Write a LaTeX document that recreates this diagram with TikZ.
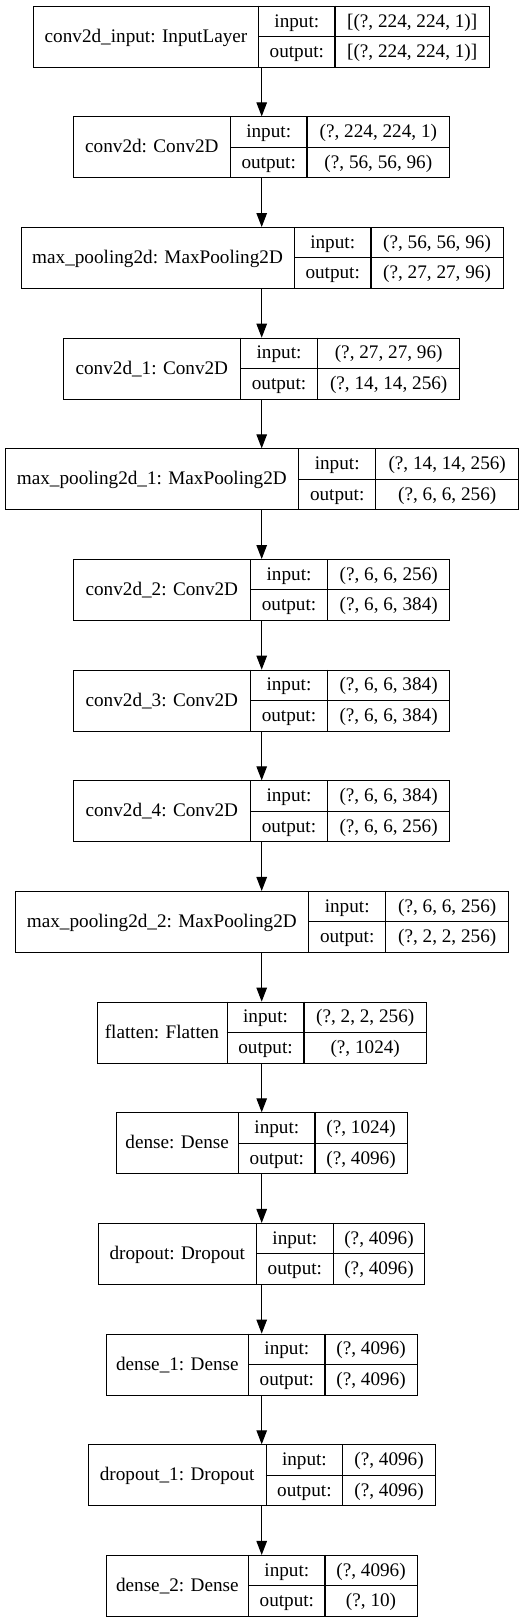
\documentclass[tikz,border=0pt]{standalone}
\usepackage{fontspec}
\setmainfont{Liberation Serif}
\usetikzlibrary{arrows.meta}
\tikzset{
  cell/.style={draw=none, rectangle, inner sep=0pt, anchor=north west,
    font=\fontsize{19.2}{23}\selectfont, text height=14.4pt, text depth=2.7pt},
  whole/.style={draw=black, line width=1.1pt, rectangle, inner sep=0pt, anchor=north west},
  grid/.style={draw=black, line width=1.1pt},
  arr/.style={line width=1.1pt, -{Triangle[length=14pt,width=10.5pt]}}
}
% #1 name, #2 top, #3 L, #4 D1, #5 D2, #6 R, #7 label, #8 input, #9 output
\newcommand\klayer[9]{%
  \node[whole, minimum width={(#6-#3)*1pt}, minimum height=61pt] (#1) at (#3,-#2) {};
  \node[cell, minimum width={(#4-#3)*1pt}, minimum height=61pt] (#1-l) at (#3,-#2) {#7};
  \node[cell, minimum width={(#5-#4)*1pt}, minimum height=30.5pt] (#1-ik) at (#4,-#2) {input:};
  \node[cell, minimum width={(#6-#5)*1pt}, minimum height=30.5pt] (#1-iv) at (#5,-#2) {#8};
  \node[cell, minimum width={(#5-#4)*1pt}, minimum height=30.5pt] (#1-ok) at (#4,-#2-30.5) {output:};
  \node[cell, minimum width={(#6-#5)*1pt}, minimum height=30.5pt] (#1-ov) at (#5,-#2-30.5) {#9};
  \draw[grid] (#1-l.north east) -- (#1-l.south east);
  \draw[grid] (#1-iv.north west) -- (#1-ov.south west);
  \draw[grid] (#1-ik.south west) -- (#1-iv.south east);
}
\begin{document}
\begin{tikzpicture}[x=1pt,y=1pt]
\useasboundingbox[fill=white] (0,0) rectangle (525,-1623);
\coordinate (ax) at (261.7,0);
\klayer{b0}{5.7}{33.3}{258.3}{335}{489}{conv2d\_input: InputLayer}{[(?, 224, 224, 1)]}{[(?, 224, 224, 1)]}
\klayer{b1}{116.36}{73.3}{230}{307}{449.3}{conv2d: Conv2D}{(?, 224, 224, 1)}{(?, 56, 56, 96)}
\klayer{b2}{227.02}{20.7}{294}{371}{502.7}{max\_pooling2d: MaxPooling2D}{(?, 56, 56, 96)}{(?, 27, 27, 96)}
\klayer{b3}{337.68}{63.3}{240}{317.7}{459.3}{conv2d\_1: Conv2D}{(?, 27, 27, 96)}{(?, 14, 14, 256)}
\klayer{b4}{448.34}{5}{298.3}{375.7}{518.3}{max\_pooling2d\_1: MaxPooling2D}{(?, 14, 14, 256)}{(?, 6, 6, 256)}
\klayer{b5}{559.0}{73.3}{250}{327.7}{449.3}{conv2d\_2: Conv2D}{(?, 6, 6, 256)}{(?, 6, 6, 384)}
\klayer{b6}{669.66}{73.3}{250}{327.5}{449.3}{conv2d\_3: Conv2D}{(?, 6, 6, 384)}{(?, 6, 6, 384)}
\klayer{b7}{780.32}{73.3}{250}{327.5}{449.3}{conv2d\_4: Conv2D}{(?, 6, 6, 384)}{(?, 6, 6, 256)}
\klayer{b8}{890.98}{15}{308.3}{385.7}{508.3}{max\_pooling2d\_2: MaxPooling2D}{(?, 6, 6, 256)}{(?, 2, 2, 256)}
\klayer{b9}{1001.64}{96.7}{226.7}{304}{426}{flatten: Flatten}{(?, 2, 2, 256)}{(?, 1024)}
\klayer{b10}{1112.3}{115.7}{238.3}{315}{406.7}{dense: Dense}{(?, 1024)}{(?, 4096)}
\klayer{b11}{1222.96}{98.3}{256}{333.3}{424.3}{dropout: Dropout}{(?, 4096)}{(?, 4096)}
\klayer{b12}{1333.62}{106}{248.3}{325}{416.7}{dense\_1: Dense}{(?, 4096)}{(?, 4096)}
\klayer{b13}{1444.28}{88.3}{265.7}{342.7}{435}{dropout\_1: Dropout}{(?, 4096)}{(?, 4096)}
\klayer{b14}{1554.94}{106}{248.3}{325}{416.7}{dense\_2: Dense}{(?, 4096)}{(?, 10)}
\foreach \a/\b in {b0/b1,b1/b2,b2/b3,b3/b4,b4/b5,b5/b6,b6/b7,b7/b8,b8/b9,b9/b10,b10/b11,b11/b12,b12/b13,b13/b14}
  \draw[arr] (\a.south -| ax) -- (\b.north -| ax);
\end{tikzpicture}
\end{document}
